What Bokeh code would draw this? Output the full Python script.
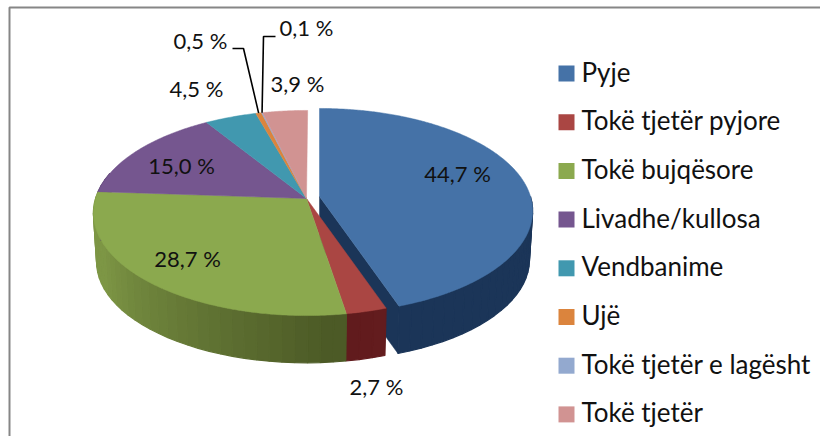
import math
from bokeh.plotting import figure
from bokeh.models import Range1d
from bokeh.core.properties import value
from bokeh.embed import file_html
from bokeh.resources import INLINE

# ---- data ----
categories = ["Pyje", "Tokë tjetër pyjore", "Tokë bujqësore", "Livadhe/kullosa",
              "Vendbanime", "Ujë", "Tokë tjetër e lagësht", "Tokë tjetër"]
shares = [44.7, 2.7, 28.7, 15.0, 4.5, 0.5, 0.1, 3.9]
share_labels = ["44,7 %", "2,7 %", "28,7 %", "15,0 %", "4,5 %", "0,5 %", "0,1 %", "3,9 %"]

# ---- styles / layout ----
top_colors = ["#4572A7", "#AA4643", "#8BA94E", "#75568F", "#4198AF", "#DB843D", "#93A9CF", "#D19392"]
side_light = ["#2A4A75", "#7A2426", "#7D9645", "#5A4070", "#2F7085", "#A86020", "#6A7FA5", "#A06A68"]
side_dark = ["#1B3558", "#5E1A1C", "#4C5A26", "#3F2C50", "#1F5060", "#804810", "#506080", "#805050"]
label_xy = [(457, 173), (376, 386), (187, 258), (181, 165), (196, 88), (200, 40), (306, 27), (297, 83)]
W, H = 820, 436
FONT = value("Lato")
LABEL_PX = "22px"
LEGEND_PX = "26px"

RX, RY, K = 211.0, 100.5, 0.1415
APEX_MAIN = (306.0, 198.0)
APEX_EXPL = (319.0, 196.0)
DEPTH, SHRINK = 49.0, 0.985


def project(apex, theta_deg, r=1.0, depth=False):
    t = math.radians(theta_deg)
    u, v = math.sin(t) * r, -math.cos(t) * r
    d = 1 - K * v
    s = SHRINK if depth else 1.0
    return (apex[0] + s * RX * u / d,
            apex[1] + (DEPTH if depth else 0) + s * RY * v / d)


def arc(apex, a0, a1, depth=False):
    n = max(2, int(abs(a1 - a0) * 2))
    return [project(apex, a0 + (a1 - a0) * i / n, depth=depth) for i in range(n + 1)]


def lerp_hex(c0, c1, f):
    a = [int(c0[i:i + 2], 16) for i in (1, 3, 5)]
    b = [int(c1[i:i + 2], 16) for i in (1, 3, 5)]
    return "#%02x%02x%02x" % tuple(round(x + (y - x) * f) for x, y in zip(a, b))


p = figure(width=W, height=H, output_backend="svg", toolbar_location=None,
           x_range=Range1d(0, W), y_range=Range1d(H, 0),
           min_border=0, outline_line_color=None, background_fill_color="white")
p.axis.visible = False
p.grid.visible = False


def poly(pts, color, lw=0.5):
    p.patch([q[0] for q in pts], [q[1] for q in pts], fill_color=color,
            line_color=color, line_width=lw)


# cumulative angles
edges = [0.0]
for s in shares:
    edges.append(edges[-1] + s * 3.6)

# chart border: top and left only are visible in the crop
p.line([9, 9, 820], [436, 7, 7], line_color="#868686", line_width=2)


def side_strip(apex, i, a0, a1):
    """Outer wall of one slice, drawn as thin quads for a shaded wall."""
    lo, hi = max(a0, 90), min(a1, 285)
    if lo >= hi:
        return
    n = max(1, int((hi - lo) / 3))
    for k in range(n):
        b0 = lo + (hi - lo) * k / n
        b1 = lo + (hi - lo) * (k + 1) / n
        mid = (b0 + b1) / 2
        if i == 2:
            col = lerp_hex(side_dark[i], side_light[i], min(1, max(0, (mid - 175) / 70)))
        elif i == 0:
            col = side_dark[0]
        else:
            col = lerp_hex(side_dark[i], side_light[i], min(1, abs(mid - 180) / 100))
        poly([project(apex, b0), project(apex, b1),
              project(apex, b1, depth=True), project(apex, b0, depth=True)], col, lw=1.2)


# exploded first slice
a0, a1 = edges[0], edges[1]
poly([APEX_EXPL, project(APEX_EXPL, a1), project(APEX_EXPL, a1, depth=True),
      (APEX_EXPL[0], APEX_EXPL[1] + DEPTH)], side_dark[0])
side_strip(APEX_EXPL, 0, 75, a1)
poly([APEX_EXPL] + arc(APEX_EXPL, a0, a1), top_colors[0])

# remaining slices: walls then tops
for i in range(1, len(shares)):
    side_strip(APEX_MAIN, i, edges[i], edges[i + 1])
for i in range(1, len(shares)):
    poly([APEX_MAIN] + arc(APEX_MAIN, edges[i], edges[i + 1]), top_colors[i])

# leader lines for the two thin slices
for i, xs_out, y_out in ((5, [232, 243], 48), (6, [275, 263], 36)):
    end = project(APEX_MAIN, (edges[i] + edges[i + 1]) / 2)
    p.line(xs_out + [end[0]], [y_out, y_out, end[1]], line_color="black", line_width=1.6)

# data labels
p.text([q[0] for q in label_xy], [q[1] for q in label_xy], text=share_labels,
       text_font=FONT, text_font_size=LABEL_PX, text_color="#111111",
       text_align="center", text_baseline="middle")

# legend drawn as real marks and text
legend_y = [73 + 48.7 * i for i in range(len(categories))]
p.scatter([566] * len(categories), legend_y, size=16, marker="square",
          fill_color=top_colors, line_color=None)
p.text([581] * len(categories), [y - 2 for y in legend_y], text=categories,
       text_font=FONT, text_font_size=LEGEND_PX, text_color="#111111",
       text_align="left", text_baseline="middle")

open("out.html", "w").write(file_html(p, INLINE))
